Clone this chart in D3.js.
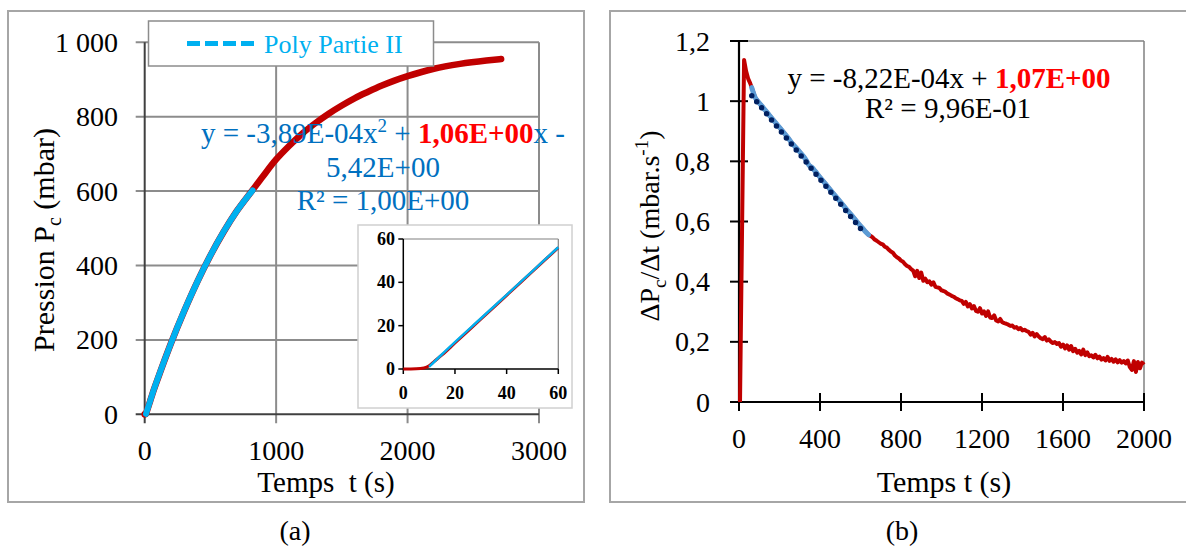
<!DOCTYPE html>
<html><head><meta charset="utf-8">
<script src="https://cdn.jsdelivr.net/npm/d3@7"></script>
<style>html,body{margin:0;padding:0;background:#fff;}svg{display:block;}
svg text, svg tspan{font-family:"Liberation Serif","Times New Roman",serif;}</style>
</head><body><svg id="c" width="1186" height="546"></svg>
<script>
// ---------- DATA (a) ----------
const aTime   = [0, 5, 8, 10, 12, 15, 20, 30, 40, 50, 60, 100, 200, 300, 400, 500, 600, 700, 821, 900, 1000, 1100, 1200, 1300, 1400, 1500, 1600, 1700, 1800, 1900, 2000, 2200, 2400, 2600, 2712];
const aPress  = [0, 0.1, 0.5, 1.5, 3.5, 6.5, 12, 23, 34, 45, 56, 96, 191, 277, 356, 427, 490, 546, 603, 640, 685, 722, 755, 783, 808, 830, 850, 867, 883, 897, 909, 929, 942, 951, 955];
const aFitTime  = [10, 15, 20, 30, 40, 50, 60, 100, 200, 300, 400, 500, 600, 700, 821];
const aFitPress = [1, 6.8, 12.4, 23.3, 34.2, 45.2, 56.2, 96.7, 191, 277.6, 356, 427, 490.6, 546, 602];
const aXTicks = [0, 1000, 2000, 3000];
const aYTicks = [0, 200, 400, 600, 800, 1000];
const aYTickLabels = ["0", "200", "400", "600", "800", "1 000"];
const insetTicks = [0, 20, 40, 60];
const legendLabel = "Poly Partie II";
const aEq1 = "y = -3,89E-04x", aEqSup = "2", aEqMid = " + ", aEqBold = "1,06E+00", aEqEnd = "x -";
const aEq2 = "5,42E+00", aEq3 = "R² = 1,00E+00";

// ---------- DATA (b) ----------
const bHeadTime = [5, 25, 35, 45, 55];
const bHeadRate = [0, 1.137, 1.10, 1.075, 1.06];
const bPartTime = [63, 80, 95, 120, 150, 178, 210, 240, 260, 290, 320, 335, 345, 360, 375, 400, 425, 450, 480, 507, 530, 560, 589, 610, 625, 640];
const bPartRate = [1.045, 1.012, 0.998, 0.978, 0.953, 0.930, 0.905, 0.880, 0.862, 0.839, 0.815, 0.800, 0.788, 0.780, 0.768, 0.747, 0.727, 0.706, 0.682, 0.660, 0.641, 0.618, 0.594, 0.578, 0.566, 0.556];
const bTailTime = [650, 660, 670, 680, 690, 700, 710, 720, 730, 740, 750, 760, 770, 780, 790, 800, 810, 820, 830, 840, 850, 860, 870, 880, 890, 900,
  910, 920, 930, 940, 950, 960, 970, 980, 990, 1000, 1010, 1020, 1030, 1040, 1050, 1060, 1070, 1080, 1090, 1100, 1110, 1120, 1130, 1140, 1150,
  1160, 1170, 1180, 1190, 1200, 1210, 1220, 1230, 1240, 1250, 1260, 1270, 1280, 1290, 1300, 1310, 1320, 1330, 1340, 1350, 1360, 1370, 1380, 1390, 1400,
  1410, 1420, 1430, 1440, 1450, 1460, 1470, 1480, 1490, 1500, 1510, 1520, 1530, 1540, 1550, 1560, 1570, 1580, 1590, 1600, 1610, 1620, 1630, 1640, 1650,
  1660, 1670, 1680, 1690, 1700, 1710, 1720, 1730, 1740, 1750, 1760, 1770, 1780, 1790, 1800, 1810, 1820, 1830, 1840, 1850, 1860, 1870, 1880, 1890, 1900,
  1910, 1920, 1930, 1940, 1950, 1960, 1970, 1980, 1990, 2000];
const bTailRate = [0.552, 0.547, 0.540, 0.536, 0.531, 0.526, 0.524, 0.516, 0.513, 0.506, 0.500, 0.496, 0.487, 0.481, 0.477, 0.470, 0.466, 0.458, 0.452, 0.449, 0.442, 0.437, 0.418, 0.436, 0.412, 0.430,
  0.403, 0.410, 0.398, 0.401, 0.390, 0.398, 0.383, 0.381, 0.379, 0.371, 0.369, 0.366, 0.360, 0.357, 0.353, 0.350, 0.345, 0.342, 0.338, 0.336, 0.326, 0.333, 0.318, 0.325, 0.311,
  0.319, 0.303, 0.300, 0.312, 0.294, 0.301, 0.286, 0.301, 0.281, 0.279, 0.288, 0.271, 0.268, 0.276, 0.265, 0.262, 0.260, 0.257, 0.253, 0.254, 0.247, 0.249, 0.242, 0.246, 0.238,
  0.240, 0.236, 0.233, 0.224, 0.230, 0.218, 0.226, 0.218, 0.212, 0.209, 0.216, 0.204, 0.208, 0.201, 0.196, 0.199, 0.193, 0.196, 0.184, 0.191, 0.178, 0.188, 0.174, 0.186, 0.169,
  0.177, 0.164, 0.170, 0.158, 0.174, 0.156, 0.165, 0.152, 0.155, 0.148, 0.157, 0.145, 0.151, 0.141, 0.146, 0.138, 0.150, 0.137, 0.143, 0.134, 0.142, 0.132, 0.139, 0.131, 0.136,
  0.128, 0.138, 0.116, 0.107, 0.136, 0.100, 0.133, 0.112, 0.131, 0.124];
const trendTime = [63, 618];
const trendRate = [1.018, 0.562];
const bXTicks = [0, 400, 800, 1200, 1600, 2000];
const bYTicks = [0, 0.2, 0.4, 0.6, 0.8, 1, 1.2];
const bYTickLabels = ["0", "0,2", "0,4", "0,6", "0,8", "1", "1,2"];
const bEq1 = "y = -8,22E-04x + ", bEqBold = "1,07E+00", bEq2 = "R² = 9,96E-01";

// ---------- DRAW ----------
const svg = d3.select("#c");
const RED = "#C00000", CYAN = "#00B0F0", EQBLUE = "#0070C0", GRID = "#8c8c8c";
const FONT = "Liberation Serif";

svg.append("rect").attr("x", 8).attr("y", 11).attr("width", 576).attr("height", 491).attr("fill", "none").attr("stroke", "#a6a6a6").attr("stroke-width", 2);
svg.append("rect").attr("x", 610).attr("y", 11).attr("width", 600).attr("height", 491).attr("fill", "none").attr("stroke", "#a6a6a6").attr("stroke-width", 2);

// ===== panel (a) =====
const ax = d3.scaleLinear().domain([0, 3000]).range([144.7, 539]);
const ay = d3.scaleLinear().domain([0, 1000]).range([414.3, 42.3]);
const ga = svg.append("g").attr("font-family", FONT);
ga.selectAll(".vg").data(aXTicks.slice(1)).join("line").attr("x1", d => ax(d)).attr("x2", d => ax(d)).attr("y1", ay(1000)).attr("y2", ay(0) + 9).attr("stroke", GRID).attr("stroke-width", 2);
ga.selectAll(".hg").data(aYTicks.slice(1)).join("line").attr("x1", ax(0) - 9).attr("x2", ax(3000)).attr("y1", d => ay(d)).attr("y2", d => ay(d)).attr("stroke", GRID).attr("stroke-width", 2);
ga.append("line").attr("x1", ax(0)).attr("x2", ax(0)).attr("y1", ay(1000)).attr("y2", ay(0) + 9).attr("stroke", "#404040").attr("stroke-width", 2);
ga.append("line").attr("x1", ax(0) - 9).attr("x2", ax(3000)).attr("y1", ay(0)).attr("y2", ay(0)).attr("stroke", "#404040").attr("stroke-width", 2);
ga.selectAll(".yl").data(aYTicks).join("text").attr("x", 118).attr("y", d => ay(d) + 9.5).attr("text-anchor", "end").attr("font-size", 28).attr("fill", "#000").text((d, i) => aYTickLabels[i]);
ga.selectAll(".xl").data(aXTicks).join("text").attr("x", d => ax(d)).attr("y", 459.5).attr("text-anchor", "middle").attr("font-size", 28).attr("fill", "#000").text(d => d);
ga.append("text").attr("x", 326).attr("y", 492).attr("text-anchor", "middle").attr("font-size", 29).style("white-space", "pre").text("Temps  t (s)");
const aYT = ga.append("text").attr("transform", "translate(54,240) rotate(-90)").attr("text-anchor", "middle").attr("font-size", 30);
aYT.append("tspan").text("Pression P");
aYT.append("tspan").attr("font-size", 20).attr("dy", 7).text("c");
aYT.append("tspan").attr("dy", -7).text(" (mbar)");
svg.append("text").attr("x", 295).attr("y", 540).attr("text-anchor", "middle").attr("font-size", 28).attr("font-family", FONT).text("(a)");

const lineA = d3.line().x(d => ax(d[0])).y(d => ay(d[1])).curve(d3.curveMonotoneX);
ga.append("path").datum(d3.zip(aTime, aPress)).attr("d", lineA).attr("fill", "none").attr("stroke", RED).attr("stroke-width", 6.5).attr("stroke-linecap", "round");
ga.append("path").datum(d3.zip(aFitTime, aFitPress)).attr("d", lineA).attr("fill", "none").attr("stroke", CYAN).attr("stroke-width", 6).attr("stroke-linecap", "round");

ga.append("rect").attr("x", 148.5).attr("y", 21).attr("width", 285).attr("height", 45).attr("fill", "#fff").attr("stroke", "#8c8c8c").attr("stroke-width", 1.5);
ga.append("line").attr("x1", 187).attr("x2", 255).attr("y1", 43.5).attr("y2", 43.5).attr("stroke", CYAN).attr("stroke-width", 5).attr("stroke-dasharray", "13,5");
ga.append("text").attr("x", 264).attr("y", 52.5).attr("font-size", 26).attr("fill", CYAN).text(legendLabel);

const e1 = ga.append("text").attr("x", 383).attr("y", 143).attr("text-anchor", "middle").attr("font-size", 29).attr("fill", EQBLUE);
e1.append("tspan").text(aEq1);
e1.append("tspan").attr("font-size", 19).attr("dy", -11).text(aEqSup);
e1.append("tspan").attr("dy", 11).text(aEqMid);
e1.append("tspan").attr("font-weight", "bold").attr("fill", "#FF0000").text(aEqBold);
e1.append("tspan").text(aEqEnd);
ga.append("text").attr("x", 383).attr("y", 177).attr("text-anchor", "middle").attr("font-size", 29).attr("fill", EQBLUE).text(aEq2);
ga.append("text").attr("x", 383).attr("y", 210).attr("text-anchor", "middle").attr("font-size", 29).attr("fill", EQBLUE).text(aEq3);

// inset
const gi = svg.append("g").attr("font-family", FONT);
gi.append("rect").attr("x", 358).attr("y", 225).attr("width", 214).attr("height", 183).attr("fill", "#fff").attr("stroke", "#d0d0d0").attr("stroke-width", 1.5);
const ix = d3.scaleLinear().domain([0, 60]).range([403.3, 558.3]);
const iy = d3.scaleLinear().domain([0, 60]).range([369, 239]);
gi.append("line").attr("x1", ix(0)).attr("x2", ix(60)).attr("y1", iy(60)).attr("y2", iy(60)).attr("stroke", "#808080").attr("stroke-width", 1.2);
gi.append("line").attr("x1", ix(60)).attr("x2", ix(60)).attr("y1", iy(60)).attr("y2", iy(0)).attr("stroke", "#808080").attr("stroke-width", 1.2);
gi.append("line").attr("x1", ix(0)).attr("x2", ix(0)).attr("y1", iy(60)).attr("y2", iy(0)).attr("stroke", "#000").attr("stroke-width", 1.5);
gi.append("line").attr("x1", ix(0)).attr("x2", ix(60)).attr("y1", iy(0)).attr("y2", iy(0)).attr("stroke", "#000").attr("stroke-width", 1.5);
gi.selectAll(".iyt").data(insetTicks).join("line").attr("x1", ix(0) - 5).attr("x2", ix(0)).attr("y1", d => iy(d)).attr("y2", d => iy(d)).attr("stroke", "#000").attr("stroke-width", 1.5);
gi.selectAll(".ixt").data(insetTicks).join("line").attr("x1", d => ix(d)).attr("x2", d => ix(d)).attr("y1", iy(0)).attr("y2", iy(0) + 5).attr("stroke", "#000").attr("stroke-width", 1.5);
gi.selectAll(".iyl").data(insetTicks).join("text").attr("x", 395).attr("y", d => iy(d) + 6).attr("text-anchor", "end").attr("font-size", 18).attr("font-weight", "bold").text(d => d);
gi.selectAll(".ixl").data(insetTicks).join("text").attr("x", d => ix(d)).attr("y", 399).attr("text-anchor", "middle").attr("font-size", 18).attr("font-weight", "bold").text(d => d);
const lineI = d3.line().x(d => ix(d[0])).y(d => iy(d[1])).curve(d3.curveMonotoneX);
gi.append("path").datum(d3.zip(aTime, aPress).filter(d => d[0] <= 60)).attr("d", lineI).attr("fill", "none").attr("stroke", RED).attr("stroke-width", 3);
gi.append("path").datum(d3.zip(aFitTime, aFitPress).filter(d => d[0] <= 60)).attr("d", lineI).attr("fill", "none").attr("stroke", CYAN).attr("stroke-width", 2.5);

// ===== panel (b) =====
const bx = d3.scaleLinear().domain([0, 2000]).range([739, 1144]);
const by = d3.scaleLinear().domain([0, 1.2]).range([402, 41]);
const gb = svg.append("g").attr("font-family", FONT);
gb.append("line").attr("x1", bx(0)).attr("x2", bx(2000)).attr("y1", by(1.2)).attr("y2", by(1.2)).attr("stroke", "#808080").attr("stroke-width", 1.5);
gb.append("line").attr("x1", bx(2000)).attr("x2", bx(2000)).attr("y1", by(1.2)).attr("y2", by(0)).attr("stroke", "#808080").attr("stroke-width", 1.5);
gb.append("line").attr("x1", bx(0)).attr("x2", bx(0)).attr("y1", by(1.2)).attr("y2", by(0)).attr("stroke", "#000").attr("stroke-width", 2.2);
gb.append("line").attr("x1", bx(0)).attr("x2", bx(2000)).attr("y1", by(0)).attr("y2", by(0)).attr("stroke", "#000").attr("stroke-width", 2.2);
gb.selectAll(".byt").data(bYTicks).join("line").attr("x1", bx(0) - 9).attr("x2", bx(0) + 9).attr("y1", d => by(d)).attr("y2", d => by(d)).attr("stroke", "#000").attr("stroke-width", 2);
gb.selectAll(".bxt").data(bXTicks).join("line").attr("x1", d => bx(d)).attr("x2", d => bx(d)).attr("y1", by(0) - 9).attr("y2", by(0) + 9).attr("stroke", "#000").attr("stroke-width", 2);
gb.selectAll(".byl").data(bYTicks).join("text").attr("x", 710).attr("y", d => by(d) + 9.5).attr("text-anchor", "end").attr("font-size", 28).text((d, i) => bYTickLabels[i]);
gb.selectAll(".bxl").data(bXTicks).join("text").attr("x", d => bx(d)).attr("y", 447.5).attr("text-anchor", "middle").attr("font-size", 28).text(d => d);
gb.append("text").attr("x", 944).attr("y", 492).attr("text-anchor", "middle").attr("font-size", 30).text("Temps t (s)");
const bYT = gb.append("text").attr("transform", "translate(659,226) rotate(-90)").attr("text-anchor", "middle").attr("font-size", 28);
bYT.append("tspan").text("ΔP");
bYT.append("tspan").attr("font-size", 19).attr("dy", 7).text("c");
bYT.append("tspan").attr("dy", -7).text("/Δt (mbar.s");
bYT.append("tspan").attr("font-size", 19).attr("dy", -11).text("-1");
bYT.append("tspan").attr("dy", 11).text(")");
svg.append("text").attr("x", 902).attr("y", 540).attr("text-anchor", "middle").attr("font-size", 28).attr("font-family", FONT).text("(b)");

const lineB = d3.line().x(d => bx(d[0])).y(d => by(d[1]));
const bHead = d3.zip(bHeadTime, bHeadRate), bPart = d3.zip(bPartTime, bPartRate), bTail = d3.zip(bTailTime, bTailRate);
gb.append("path").datum(bHead.concat(bPart, bTail)).attr("d", lineB).attr("fill", "none").attr("stroke", RED).attr("stroke-width", 4).attr("stroke-linejoin", "round");
gb.append("path").datum(bPart).attr("d", d3.line().x(d => bx(d[0])).y(d => by(d[1])).curve(d3.curveMonotoneX)).attr("fill", "none").attr("stroke", "#5B9BD5").attr("stroke-width", 5).attr("stroke-linecap", "round");
gb.append("path").datum(d3.zip(trendTime, trendRate)).attr("d", lineB).attr("fill", "none").attr("stroke", "#002060").attr("stroke-width", 5.5).attr("stroke-linecap", "round").attr("stroke-dasharray", "0,7.8");

const be1 = gb.append("text").attr("x", 949).attr("y", 88).attr("text-anchor", "middle").attr("font-size", 29).attr("fill", "#000").style("white-space", "pre");
be1.append("tspan").text(bEq1);
be1.append("tspan").attr("font-weight", "bold").attr("fill", "#FF0000").text(bEqBold);
gb.append("text").attr("x", 948).attr("y", 118).attr("text-anchor", "middle").attr("font-size", 29).attr("fill", "#000").text(bEq2);
</script></body></html>
